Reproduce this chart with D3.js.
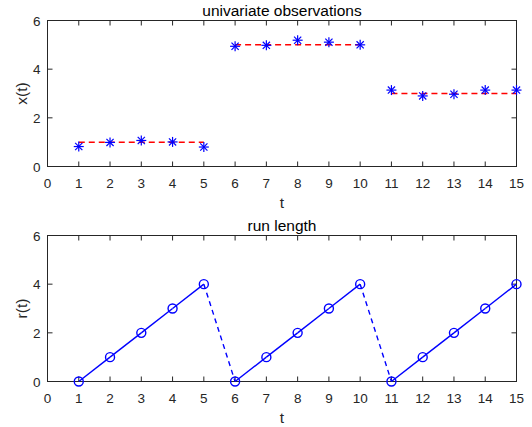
<!DOCTYPE html>
<html>
<head>
<meta charset="utf-8">
<script src="https://cdn.jsdelivr.net/npm/d3@7"></script>
<style>
  body { margin: 0; background: #fff; }
  text { font-family: "Liberation Sans", Arial, sans-serif; fill: #262626; }
</style>
</head>
<body>
<svg id="chart" width="532" height="427"></svg>
<script>
// data
const t = [1, 2, 3, 4, 5, 6, 7, 8, 9, 10, 11, 12, 13, 14, 15]
const observations = [0.82, 0.99, 1.07, 1.01, 0.80, 4.94, 4.98, 5.19, 5.11, 5.00, 3.14, 2.90, 2.97, 3.14, 3.14]
const segmentMeans = [
    { start: 1, end: 5, mean: 1 },
    { start: 6, end: 10, mean: 5 },
    { start: 11, end: 15, mean: 3 }
]
const runLength = [0, 1, 2, 3, 4, 0, 1, 2, 3, 4, 0, 1, 2, 3, 4]
const xTicks = [0, 1, 2, 3, 4, 5, 6, 7, 8, 9, 10, 11, 12, 13, 14, 15]
const yTicks = [0, 2, 4, 6]

const svg = d3.select("#chart")
const axisColor = "#262626"
const blue = "#0000ff"

const x = d3.scaleLinear().domain([0, 15]).range([47.5, 516.5])

function drawAxes(top, bottom, title, ylabel) {
    const y = d3.scaleLinear().domain([0, 6]).range([bottom, top])
    const g = svg.append("g")

    // box
    g.append("rect")
        .attr("x", x(0)).attr("y", top)
        .attr("width", x(15) - x(0)).attr("height", bottom - top)
        .attr("fill", "none").attr("stroke", axisColor).attr("stroke-width", 1)

    // inward ticks on all four sides
    xTicks.forEach(v => {
        g.append("line").attr("x1", x(v)).attr("x2", x(v))
            .attr("y1", bottom).attr("y2", bottom - 5).attr("stroke", axisColor)
        g.append("line").attr("x1", x(v)).attr("x2", x(v))
            .attr("y1", top).attr("y2", top + 5).attr("stroke", axisColor)
        g.append("text").text(v)
            .attr("x", x(v)).attr("y", bottom + 21.5)
            .attr("text-anchor", "middle").attr("font-size", 13.5)
    })
    yTicks.forEach(v => {
        g.append("line").attr("x1", x(0)).attr("x2", x(0) + 5)
            .attr("y1", y(v)).attr("y2", y(v)).attr("stroke", axisColor)
        g.append("line").attr("x1", x(15)).attr("x2", x(15) - 5)
            .attr("y1", y(v)).attr("y2", y(v)).attr("stroke", axisColor)
        g.append("text").text(v)
            .attr("x", x(0) - 7).attr("y", y(v) + 5)
            .attr("text-anchor", "end").attr("font-size", 13.5)
    })

    g.append("text").text(title)
        .attr("x", (x(0) + x(15)) / 2).attr("y", top - 5)
        .attr("text-anchor", "middle").attr("font-size", 15.5)
        .style("fill", "#000")

    g.append("text").text("t")
        .attr("x", (x(0) + x(15)) / 2).attr("y", bottom + 41)
        .attr("text-anchor", "middle").attr("font-size", 15.5)

    g.append("text").text(ylabel)
        .attr("transform", `translate(27,${(top + bottom) / 2}) rotate(-90)`)
        .attr("text-anchor", "middle").attr("font-size", 15.5)

    return y
}

// top panel
const y1 = drawAxes(20.5, 166.5, "univariate observations", "x(t)")

svg.append("g")
    .selectAll("line")
    .data(segmentMeans)
    .join("line")
    .attr("x1", d => x(d.start)).attr("x2", d => x(d.end))
    .attr("y1", d => y1(d.mean)).attr("y2", d => y1(d.mean))
    .attr("stroke", "#ff0000").attr("stroke-width", 1.5)
    .attr("stroke-dasharray", "6,4")

const star = svg.append("g")
    .selectAll("g")
    .data(t.map((v, i) => [v, observations[i]]))
    .join("g")
    .attr("transform", d => `translate(${x(d[0])},${y1(d[1])})`)
    .attr("stroke", blue).attr("stroke-width", 1.2)
star.append("line").attr("x1", -5).attr("x2", 5).attr("y1", 0).attr("y2", 0)
star.append("line").attr("x1", 0).attr("x2", 0).attr("y1", -5).attr("y2", 5)
star.append("line").attr("x1", -3.6).attr("x2", 3.6).attr("y1", -3.6).attr("y2", 3.6)
star.append("line").attr("x1", -3.6).attr("x2", 3.6).attr("y1", 3.6).attr("y2", -3.6)

// bottom panel
const y2 = drawAxes(235.5, 381.5, "run length", "r(t)")

const pts = t.map((v, i) => [v, runLength[i]])
const line = d3.line().x(d => x(d[0])).y(d => y2(d[1]))

// solid within runs, dashed at change points
for (let i = 0; i < pts.length - 1; i++) {
    const reset = runLength[i + 1] < runLength[i]
    svg.append("path")
        .attr("d", line([pts[i], pts[i + 1]]))
        .attr("fill", "none").attr("stroke", blue).attr("stroke-width", 1.4)
        .attr("stroke-dasharray", reset ? "5,4" : null)
}

svg.append("g")
    .selectAll("circle")
    .data(pts)
    .join("circle")
    .attr("cx", d => x(d[0])).attr("cy", d => y2(d[1]))
    .attr("r", 4.5)
    .attr("fill", "none").attr("stroke", blue).attr("stroke-width", 1.4)
</script>
</body>
</html>
